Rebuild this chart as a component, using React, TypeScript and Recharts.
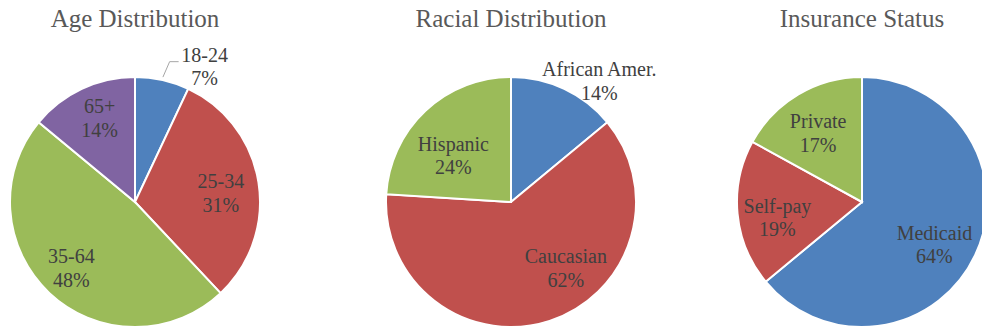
import { Cell, Pie, PieChart } from "recharts";

const ageNames = ["18-24", "25-34", "35-64", "65+"];
const ageValues = [7, 31, 48, 14];

const raceNames = ["African Amer.", "Caucasian", "Hispanic"];
const raceValues = [14, 62, 24];

const insuranceNames = ["Medicaid", "Self-pay", "Private"];
const insuranceValues = [64, 19, 17];

const titles = ["Age Distribution", "Racial Distribution", "Insurance Status"];

const BLUE = "#4F81BD";
const RED = "#C0504D";
const GREEN = "#9BBB59";
const PURPLE = "#8064A2";

const ageColors = [BLUE, RED, GREEN, PURPLE];
const raceColors = [BLUE, RED, GREEN];
const insuranceColors = [BLUE, RED, GREEN];

const FONT = '"Liberation Serif", "Times New Roman", serif';
const RADIUS = 125;
const CY = 202;
const centers = [135, 511, 862];

// label tweaks, Excel "best fit" style placement
const labelNudge: Record<string, [number, number]> = {
  "18-24": [50, -48],
  "25-34": [-3, 5],
  "35-64": [-2, 0],
  "65+": [3, -3],
  "African Amer.": [50, -40],
  Caucasian: [27, -20],
  Hispanic: [4, 19],
  Medicaid: [-9, 4],
  "Self-pay": [5, 7],
  Private: [2, 8],
};
const withLeader = new Set(["18-24"]);

const RAD = Math.PI / 180;

const toRows = (names: string[], values: number[]) => names.map((name, i) => ({ name, value: values[i] }));

function renderLabel(props: any) {
  const { cx, cy, midAngle, outerRadius, name, value } = props;
  const r = outerRadius * 0.72;
  const [nx, ny] = labelNudge[name] ?? [0, 0];
  const lx = cx + r * Math.cos(-midAngle * RAD) + nx;
  const ly = cy + r * Math.sin(-midAngle * RAD) + ny;
  let leader = null;
  if (withLeader.has(name)) {
    const sx = cx + (outerRadius + 3) * Math.cos(-midAngle * RAD);
    const sy = cy + (outerRadius + 3) * Math.sin(-midAngle * RAD);
    leader = (
      <polyline
        points={`${sx},${sy} ${lx - 35},${ly - 4.5} ${lx - 26},${ly - 4.5}`}
        fill="none"
        stroke="#A6A6A6"
        strokeWidth={1}
      />
    );
  }
  return (
    <g>
      {leader}
      <text x={lx} textAnchor="middle" fill="#404040" fontSize={20} fontFamily={FONT}>
        <tspan x={lx} y={ly - 4.5}>{name}</tspan>
        <tspan x={lx} y={ly + 19}>{value}%</tspan>
      </text>
    </g>
  );
}

const pies = [
  { rows: toRows(ageNames, ageValues), colors: ageColors },
  { rows: toRows(raceNames, raceValues), colors: raceColors },
  { rows: toRows(insuranceNames, insuranceValues), colors: insuranceColors },
];

export default function App() {
  return (
    <div style={{ position: "absolute", left: 0, top: 0, width: 982, height: 329, background: "#fff", overflow: "hidden" }}>
      {titles.map((t, i) => (
        <div
          key={t}
          style={{
            position: "absolute",
            left: centers[i] - 150,
            top: 7,
            width: 300,
            textAlign: "center",
            fontFamily: FONT,
            fontSize: 25,
            lineHeight: "24px",
            color: "#595959",
          }}
        >
          {t}
        </div>
      ))}
      <PieChart
        width={982}
        height={329}
        margin={{ top: 0, right: 0, bottom: 0, left: 0 }}
        style={{ position: "absolute", left: 0, top: 0 }}
      >
        {pies.map((p, i) => (
          <Pie
            key={i}
            data={p.rows}
            dataKey="value"
            nameKey="name"
            cx={centers[i]}
            cy={CY}
            outerRadius={RADIUS}
            startAngle={90}
            endAngle={-270}
            stroke="#fff"
            strokeWidth={2}
            label={renderLabel}
            labelLine={false}
            isAnimationActive={false}
          >
            {p.rows.map((r, j) => (
              <Cell key={r.name} fill={p.colors[j]} />
            ))}
          </Pie>
        ))}
      </PieChart>
    </div>
  );
}
